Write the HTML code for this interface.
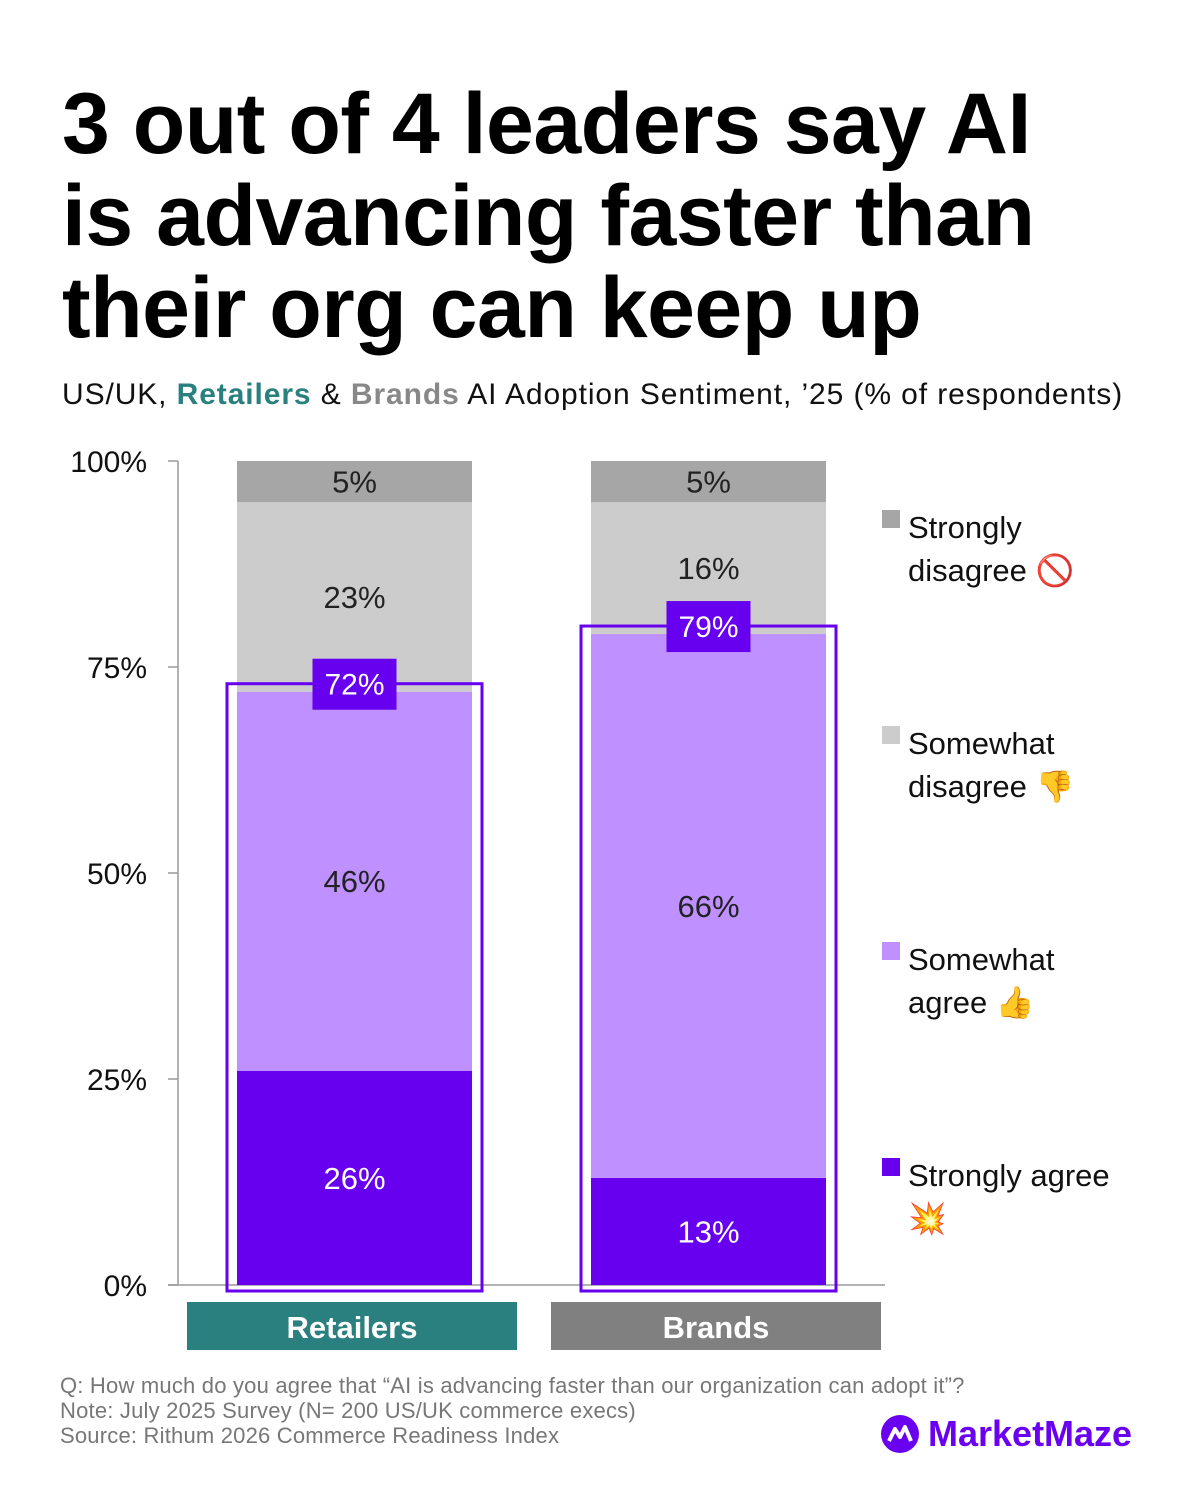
<!DOCTYPE html>
<html><head><meta charset="utf-8"><style>
body{margin:0;width:1200px;height:1500px;background:#fff;font-family:"Liberation Sans",sans-serif;position:relative;overflow:hidden}
h1{position:absolute;left:62px;top:78px;margin:0;font-size:86px;line-height:92px;font-weight:bold;letter-spacing:-0.5px;color:#000;white-space:nowrap}
.sub{position:absolute;left:62px;top:378px;font-size:30px;color:#111;white-space:nowrap;letter-spacing:0.9px}
.foot{position:absolute;left:60px;top:1373px;font-size:22px;line-height:25px;color:#777;white-space:nowrap;letter-spacing:0.2px}
</style></head><body>
<h1>3 out of 4 leaders say AI<br>is advancing faster than<br>their org can keep up</h1>
<div class="sub">US/UK, <b style="color:#2a7f7f">Retailers</b> &amp; <b style="color:#888">Brands</b> AI Adoption Sentiment, ’25 (% of respondents)</div>
<svg id="chart" width="1200" height="1500" style="position:absolute;left:0;top:0"></svg>
<div class="foot">Q: How much do you agree that “AI is advancing faster than our organization can adopt it”?<br>Note: July 2025 Survey (N= 200 US/UK commerce execs)<br>Source: Rithum 2026 Commerce Readiness Index</div>
<div style="position:absolute;left:880px;top:1413px;display:flex;align-items:center;gap:8px">
<svg width="40" height="40"><circle cx="20" cy="20" r="19" fill="#6a00f0"/><path d="M9 27 L15 15 L20 23 L25 13 L31 27" stroke="#fff" stroke-width="4" fill="none" stroke-linejoin="round"/></svg>
<span style="font-size:36px;font-weight:bold;color:#6a00f0;letter-spacing:0px">MarketMaze</span></div>
<script>
const categories=["Retailers","Brands"];
const strongAgree=[26,13];
const somewhatAgree=[46,66];
const somewhatDisagree=[23,16];
const strongDisagree=[5,5];
const yTicks=[0,25,50,75,100];
const seriesNames=["Strongly agree","Somewhat agree","Somewhat disagree","Strongly disagree"];
const NS="http://www.w3.org/2000/svg";
const svg=document.getElementById('chart');
const y0=1285,y100=461;
const y=v=>y0-(y0-y100)*v/100;
const bx=[237,591],bw=235;
const cx=[187,551];
const catColors=["#2a7f7f","#808080"];
const colors=["#6600ee","#bf90ff","#cccccc","#a6a6a6"];
const txtColors=["#fff","#222","#222","#222"];
function mk(t,a){const e=document.createElementNS(NS,t);for(const k in a)e.setAttribute(k,a[k]);svg.appendChild(e);return e;}
yTicks.forEach(t=>{
 const l=mk('line',{x1:168,x2:178,y1:y(t),y2:y(t),stroke:'#999','stroke-width':1.5});
 
 
 const tx=mk('text',{x:147,y:y(t)+11,'font-size':30,'text-anchor':'end',fill:'#111'});tx.textContent=t+'%';
 
 
});
const ax=mk('line',{x1:178,x2:178,y1:y100,y2:y0,stroke:'#999','stroke-width':1.5});


const base=mk('line',{x1:168,x2:885,y1:y0,y2:y0,stroke:'#999','stroke-width':1.5});


const series=[strongAgree,somewhatAgree,somewhatDisagree,strongDisagree];
categories.forEach((c,i)=>{
 let cum=0;
 series.forEach((s,j)=>{
  const v=s[i];
  const r=mk('rect',{x:bx[i],y:y(cum+v),width:bw,height:y(cum)-y(cum+v),fill:colors[j]});
  
  
  const t=mk('text',{x:bx[i]+bw/2,y:(y(cum)+y(cum+v))/2+11,'font-size':31,'text-anchor':'middle',fill:txtColors[j]});t.textContent=v+'%';
  
  
  cum+=v;
 });
 const agree=strongAgree[i]+somewhatAgree[i];
 const o=mk('rect',{x:bx[i]-10,y:y(agree)-8,width:bw+20,height:y0-y(agree)+14,fill:'none',stroke:'#6600ee','stroke-width':3});
 
 
 const lb=mk('rect',{x:bx[i]+bw/2-42,y:y(agree)-33,width:84,height:51,fill:'#6600ee'});
 
 
 const lt=mk('text',{x:bx[i]+bw/2,y:y(agree)+3,'font-size':30,'text-anchor':'middle',fill:'#fff'});lt.textContent=agree+'%';
 
 
 const cr=mk('rect',{x:cx[i],y:1302,width:330,height:48,fill:catColors[i]});
 
 
 const ct=mk('text',{x:cx[i]+165,y:1338,'font-size':31,'font-weight':'bold','text-anchor':'middle',fill:'#fff'});ct.textContent=c;
 
 
});
const legend=[["Strongly","disagree 🚫",colors[3],527],["Somewhat","disagree 👎",colors[2],743],["Somewhat","agree 👍",colors[1],959],["Strongly agree","💥",colors[0],1175]];
legend.forEach(l=>{
 const sq=mk('rect',{x:882,y:l[3]-17,width:18,height:18,fill:l[2]});
 
 
 const t=mk('text',{x:908,y:l[3]+11,'font-size':31,fill:'#111'});
 
 
 const a=document.createElementNS(NS,'tspan');a.textContent=l[0];t.appendChild(a);
 const b=document.createElementNS(NS,'tspan');b.setAttribute('x',908);b.setAttribute('dy',43);b.textContent=l[1];t.appendChild(b);
});
</script>
</body></html>
